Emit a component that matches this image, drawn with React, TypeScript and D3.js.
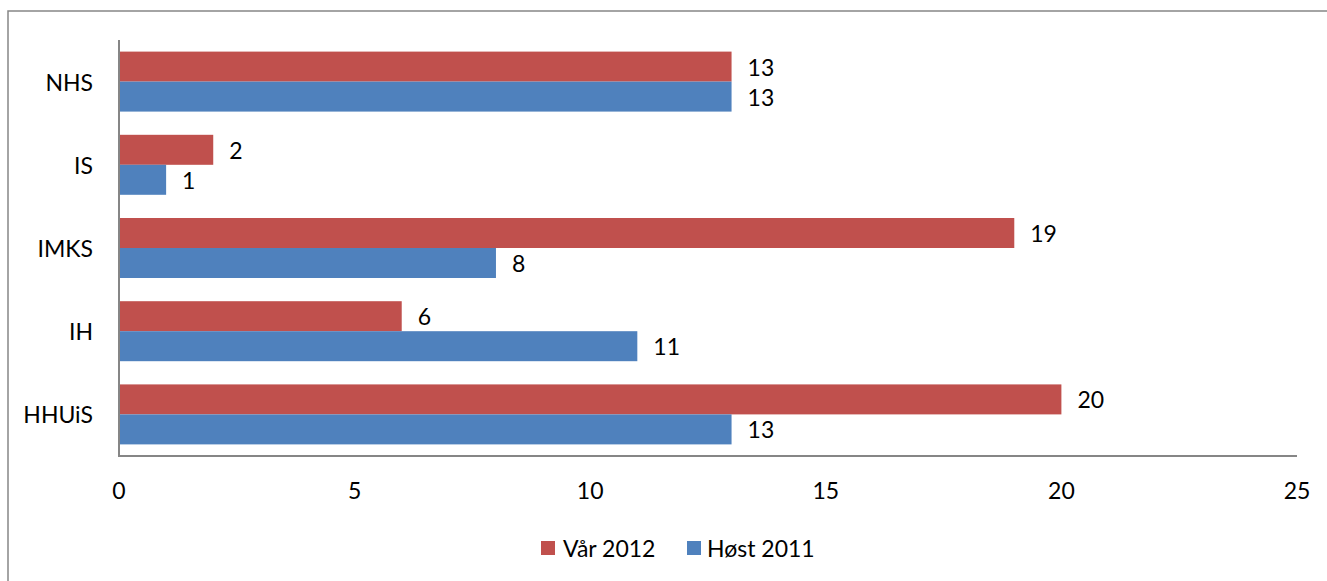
import React from "react";
import * as d3 from "d3";

const categories = ["NHS", "IS", "IMKS", "IH", "HHUiS"];
const seriesNames = ["Vår 2012", "Høst 2011"];
const var2012 = [13, 2, 19, 6, 20];
const host2011 = [13, 1, 8, 11, 13];
const xTicks = [0, 5, 10, 15, 20, 25];
const colors = ["#C0504D", "#4F81BD"];

const W = 1327;
const H = 581;
const FONT = "Lato, 'Open Sans', sans-serif";
const FS = 23;

export default function App() {
  const x = d3.scaleLinear().domain([0, 25]).range([119, 1297]);
  const y = d3
    .scaleBand<string>()
    .domain(categories)
    .range([40, 456])
    .paddingInner(0.279)
    .paddingOuter(0.1395);
  const ySub = d3
    .scaleBand<string>()
    .domain(seriesNames)
    .range([0, y.bandwidth()]);
  const values = [var2012, host2011];

  return (
    <svg
      width={W}
      height={H}
      style={{ position: "absolute", left: 0, top: 0, background: "#fff" }}
      fontFamily={FONT}
    >
      <rect x={8} y={11} width={1340} height={600} fill="#fff" stroke="#868686" strokeWidth={1.5} />
      {categories.map((c, i) =>
        seriesNames.map((s, j) => {
          const v = values[j][i];
          const yy = (y(c) ?? 0) + (ySub(s) ?? 0);
          return (
            <g key={c + s}>
              <rect
                x={x(0)}
                y={yy}
                width={x(v) - x(0)}
                height={ySub.bandwidth()}
                fill={colors[j]}
              />
              <text
                x={x(v) + 16}
                y={yy + ySub.bandwidth() / 2}
                dominantBaseline="central"
                fontSize={FS}
                fill="#000"
              >
                {v}
              </text>
            </g>
          );
        })
      )}
      <line x1={x(0)} x2={x(0)} y1={40} y2={457} stroke="#868686" strokeWidth={2} />
      <line x1={x(0)} x2={x(25)} y1={456} y2={456} stroke="#868686" strokeWidth={2} />
      {categories.map((c) => (
        <text
          key={c}
          x={93}
          y={(y(c) ?? 0) + y.bandwidth() / 2}
          textAnchor="end"
          dominantBaseline="central"
          fontSize={FS}
          fill="#000"
        >
          {c}
        </text>
      ))}
      {xTicks.map((t) => (
        <text
          key={t}
          x={x(t)}
          y={490}
          textAnchor="middle"
          dominantBaseline="central"
          fontSize={FS}
          fill="#000"
        >
          {t}
        </text>
      ))}
      <g>
        <rect x={541} y={541} width={14} height={14} fill={colors[0]} />
        <text x={563} y={548} dominantBaseline="central" fontSize={FS} fill="#000">
          {seriesNames[0]}
        </text>
        <rect x={687} y={541} width={14} height={14} fill={colors[1]} />
        <text x={707} y={548} dominantBaseline="central" fontSize={FS} fill="#000">
          {seriesNames[1]}
        </text>
      </g>
    </svg>
  );
}
